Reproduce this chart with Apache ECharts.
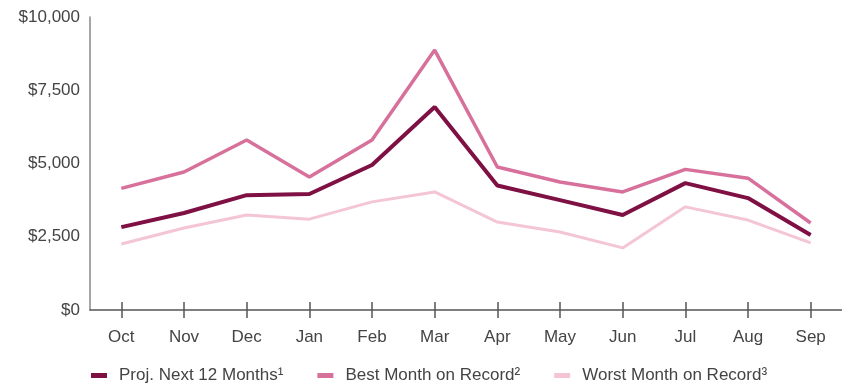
<!DOCTYPE html>
<html>
<head>
<meta charset="utf-8">
<script src="https://cdn.jsdelivr.net/npm/echarts@6/dist/echarts.min.js"></script>
<style>
  html, body { margin: 0; padding: 0; background: #fff; }
  #chart { width: 842px; height: 385px; }
</style>
</head>
<body>
<div id="chart"></div>
<script>
const months = ["Oct", "Nov", "Dec", "Jan", "Feb", "Mar", "Apr", "May", "Jun", "Jul", "Aug", "Sep"];
const projNext12 = [2830, 3310, 3920, 3960, 4950, 6930, 4250, 3750, 3240, 4330, 3820, 2560];
const bestMonth = [4150, 4710, 5800, 4540, 5800, 8870, 4880, 4370, 4030, 4800, 4500, 2970];
const worstMonth = [2250, 2800, 3240, 3100, 3690, 4030, 3000, 2660, 2120, 3520, 3070, 2290];
const seriesNames = ["Proj. Next 12 Months\u00b9", "Best Month on Record\u00b2", "Worst Month on Record\u00b3"];

const chart = echarts.init(document.getElementById("chart"));

// main line series
function lineSeries(name, data, color, width) {
    return {
        name: name,
        type: "line",
        data: data,
        symbol: "none",
        lineStyle: { color: color, width: width },
        itemStyle: { color: color },
        z: width
    };
}

const tickStyle = { color: "#555", width: 1.5 };

const options = {
    animation: false,
    textStyle: { fontFamily: "Liberation Sans, Arial, sans-serif" },
    grid: { left: 90, top: 17, bottom: 75, width: 760 },
    legend: {
        top: 362,
        left: 86,
        icon: "rect",
        itemWidth: 16,
        itemHeight: 5,
        itemGap: 34,
        textStyle: { color: "#444", fontSize: 17, padding: [0, 0, 0, 7] },
        data: seriesNames
    },
    xAxis: [
        {
            type: "category",
            data: months,
            axisLine: { lineStyle: { color: "#555", width: 1.5 } },
            axisTick: { show: true, alignWithLabel: true, length: 8, lineStyle: tickStyle },
            axisLabel: { color: "#444", fontSize: 17, margin: 19 }
        },
        {
            // second axis only to draw the upper half of the crossing ticks
            type: "category",
            data: months,
            position: "bottom",
            axisLine: { show: false },
            axisTick: { show: true, inside: true, alignWithLabel: true, length: 8, lineStyle: tickStyle },
            axisLabel: { show: false }
        }
    ],
    yAxis: {
        type: "value",
        min: 0,
        max: 10000,
        interval: 2500,
        axisLine: { show: true, lineStyle: { color: "#888", width: 1.5 } },
        axisTick: { show: false },
        splitLine: { show: false },
        axisLabel: {
            color: "#444",
            fontSize: 17,
            margin: 10,
            formatter: (v) => "$" + v.toLocaleString("en-US")
        }
    },
    series: [
        lineSeries(seriesNames[2], worstMonth, "#f3c5d5", 3),
        lineSeries(seriesNames[1], bestMonth, "#d8709c", 3.5),
        lineSeries(seriesNames[0], projNext12, "#7e1044", 4)
    ]
};

chart.setOption(options);
</script>
</body>
</html>
